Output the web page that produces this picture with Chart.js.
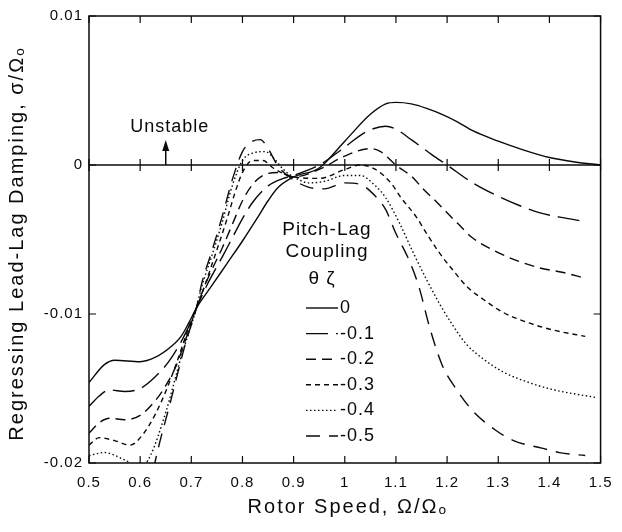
<!DOCTYPE html>
<html>
<head>
<meta charset="utf-8">
<script src="https://cdn.jsdelivr.net/npm/chart.js@4.4.0/dist/chart.umd.min.js"></script>
<style>
    html, body { margin: 0; padding: 0; background: #ffffff; }
    canvas { display: block; }
</style>
</head>
<body>
<canvas id="chartDamping" width="622" height="532"></canvas>
<script>
// ========== DONNÉES ==========
const couplingLabels = ['0', '-0.1', '-0.2', '-0.3', '-0.4', '-0.5'];

const speed0 = [0.50, 0.53, 0.55, 0.60, 0.63, 0.66, 0.68, 0.695, 0.71, 0.74, 0.77, 0.80, 0.83, 0.85, 0.87, 0.90, 0.95, 1.00, 1.05, 1.08, 1.10, 1.13, 1.16, 1.19, 1.22, 1.25, 1.30, 1.35, 1.40, 1.45, 1.50];
const damp0  = [-0.0146, -0.0134, -0.0131, -0.0132, -0.0129, -0.0122, -0.0115, -0.0106, -0.0096, -0.0081, -0.0066, -0.0051, -0.0035, -0.0024, -0.0015, -0.0008, -0.0002, 0.0016, 0.0034, 0.0041, 0.0042, 0.0041, 0.0038, 0.0034, 0.0029, 0.0023, 0.0016, 0.0010, 0.0005, 0.0002, 0.0000];

const speed1 = [0.50, 0.52, 0.54, 0.57, 0.60, 0.63, 0.66, 0.69, 0.71, 0.73, 0.76, 0.78, 0.80, 0.82, 0.85, 0.88, 0.90, 0.95, 1.00, 1.04, 1.08, 1.10, 1.13, 1.17, 1.20, 1.25, 1.30, 1.34, 1.38, 1.42, 1.47];
const damp1  = [-0.0162, -0.0155, -0.0151, -0.0152, -0.0150, -0.0142, -0.0130, -0.0112, -0.0096, -0.0081, -0.0062, -0.0049, -0.0036, -0.0025, -0.0014, -0.0009, -0.0007, 0.0000, 0.0012, 0.0022, 0.0026, 0.0024, 0.0017, 0.0007, 0.0000, -0.0012, -0.0021, -0.0027, -0.0032, -0.0035, -0.0038];

const speed2 = [0.50, 0.52, 0.54, 0.57, 0.60, 0.63, 0.65, 0.67, 0.69, 0.71, 0.73, 0.76, 0.78, 0.80, 0.82, 0.84, 0.87, 0.90, 0.95, 1.00, 1.05, 1.07, 1.10, 1.135, 1.15, 1.18, 1.22, 1.25, 1.295, 1.335, 1.38, 1.425, 1.47];
const damp2  = [-0.0180, -0.0173, -0.0170, -0.0171, -0.0168, -0.0158, -0.0148, -0.0135, -0.0116, -0.0096, -0.0078, -0.0056, -0.0040, -0.0024, -0.0013, -0.0007, -0.0005, -0.0008, -0.0003, 0.0006, 0.0011, 0.0009, 0.0000, -0.0009, -0.0015, -0.0025, -0.0039, -0.0049, -0.0058, -0.0064, -0.0069, -0.0072, -0.0076];

const speed3 = [0.50, 0.52, 0.55, 0.58, 0.605, 0.63, 0.65, 0.67, 0.69, 0.71, 0.72, 0.745, 0.77, 0.785, 0.80, 0.82, 0.84, 0.86, 0.90, 0.95, 1.00, 1.03, 1.06, 1.09, 1.11, 1.14, 1.16, 1.185, 1.21, 1.24, 1.27, 1.31, 1.36, 1.41, 1.47];
const damp3  = [-0.0188, -0.0183, -0.0185, -0.0188, -0.0181, -0.0167, -0.0152, -0.0134, -0.0114, -0.0096, -0.0087, -0.0062, -0.0036, -0.0019, -0.0005, 0.0003, 0.0003, -0.0002, -0.0008, -0.0009, -0.0003, 0.0000, -0.0003, -0.0012, -0.0022, -0.0035, -0.0046, -0.0059, -0.0070, -0.0082, -0.0090, -0.0099, -0.0106, -0.0111, -0.0115];

const speed4 = [0.50, 0.53, 0.57, 0.60, 0.62, 0.65, 0.68, 0.71, 0.72, 0.74, 0.76, 0.78, 0.80, 0.82, 0.845, 0.86, 0.88, 0.90, 0.93, 0.96, 1.00, 1.03, 1.06, 1.08, 1.107, 1.134, 1.16, 1.185, 1.21, 1.237, 1.27, 1.31, 1.36, 1.41, 1.49];
const damp4  = [-0.0195, -0.0193, -0.0198, -0.0203, -0.0195, -0.0166, -0.0129, -0.0096, -0.0082, -0.0061, -0.0039, -0.0014, 0.0003, 0.0008, 0.0009, 0.0005, -0.0003, -0.0008, -0.0012, -0.0011, -0.0007, -0.0007, -0.0014, -0.0022, -0.0039, -0.0059, -0.0077, -0.0093, -0.0107, -0.0120, -0.0130, -0.0139, -0.0146, -0.0151, -0.0156];

const speed5 = [0.60, 0.63, 0.66, 0.69, 0.71, 0.72, 0.74, 0.76, 0.78, 0.80, 0.82, 0.835, 0.85, 0.87, 0.90, 0.93, 0.96, 1.00, 1.03, 1.06, 1.08, 1.10, 1.127, 1.146, 1.165, 1.19, 1.217, 1.25, 1.295, 1.33, 1.385, 1.42, 1.47];
const damp5  = [-0.0250, -0.0198, -0.0158, -0.0118, -0.0096, -0.0080, -0.0058, -0.0035, -0.0010, 0.0009, 0.0016, 0.0017, 0.0011, -0.0001, -0.0010, -0.0015, -0.0016, -0.0012, -0.0013, -0.0021, -0.0030, -0.0046, -0.0065, -0.0083, -0.0108, -0.0134, -0.0150, -0.0165, -0.0178, -0.0185, -0.0190, -0.0193, -0.0195];

const xTickValues = [0.5, 0.6, 0.7, 0.8, 0.9, 1.0, 1.1, 1.2, 1.3, 1.4, 1.5];
const yTickValues = [0.01, 0, -0.01, -0.02];

const allSpeeds = [speed0, speed1, speed2, speed3, speed4, speed5];
const allDamps  = [damp0, damp1, damp2, damp3, damp4, damp5];
const dashes = [[], [22, 8], [10, 6], [5, 4], [1.5, 2.5], [14, 9]];

const FONT = '"Liberation Sans", Arial, sans-serif';
const INK = '#0a0a0a';

// ========== DÉCOR (cadre, ticks, titres, légende) ==========
const decorPlugin = {
    id: 'decor',
    beforeDraw(chart) {
        chart.ctx.letterSpacing = '1px';
    },
    afterDatasetsDraw(chart) {
        const { ctx, chartArea: a, scales: { x, y } } = chart;
        ctx.save();
        ctx.strokeStyle = INK;
        ctx.fillStyle = INK;

        // frame
        ctx.lineWidth = 1.5;
        ctx.strokeRect(a.left, a.top, a.right - a.left, a.bottom - a.top);

        // zero line
        const y0 = y.getPixelForValue(0);
        ctx.lineWidth = 1.6;
        ctx.beginPath();
        ctx.moveTo(a.left, y0);
        ctx.lineTo(a.right, y0);
        ctx.stroke();

        // inward ticks
        ctx.lineWidth = 1.2;
        ctx.beginPath();
        xTickValues.forEach(v => {
            const px = x.getPixelForValue(v);
            ctx.moveTo(px, a.bottom); ctx.lineTo(px, a.bottom - 7);
            ctx.moveTo(px, a.top); ctx.lineTo(px, a.top + 7);
            ctx.moveTo(px, y0 - 6); ctx.lineTo(px, y0 + 6);
        });
        yTickValues.forEach(v => {
            const py = y.getPixelForValue(v);
            ctx.moveTo(a.left, py); ctx.lineTo(a.left + 7, py);
            ctx.moveTo(a.right, py); ctx.lineTo(a.right - 7, py);
        });
        ctx.stroke();

        // axis titles
        ctx.letterSpacing = '2px';
        ctx.font = '20px ' + FONT;
        ctx.textAlign = 'center';
        ctx.textBaseline = 'middle';
        ctx.fillText('Rotor Speed, \u03A9/\u03A9\u2092', (a.left + a.right) / 2 + 3, 507);
        ctx.save();
        ctx.translate(17, (a.top + a.bottom) / 2 + 4);
        ctx.rotate(-Math.PI / 2);
        ctx.fillText('Regressing Lead-Lag Damping, \u03C3/\u03A9\u2092', 0, 0);
        ctx.restore();

        // Unstable
        ctx.letterSpacing = '1px';
        const ax = x.getPixelForValue(0.65);
        ctx.font = '18px ' + FONT;
        ctx.fillText('Unstable', ax + 4, y0 - 38);
        ctx.lineWidth = 1.5;
        ctx.beginPath();
        ctx.moveTo(ax, y0);
        ctx.lineTo(ax, y0 - 16);
        ctx.stroke();
        ctx.beginPath();
        ctx.moveTo(ax, y0 - 25);
        ctx.lineTo(ax - 3.5, y0 - 14);
        ctx.lineTo(ax + 3.5, y0 - 14);
        ctx.closePath();
        ctx.fill();

        // legend
        ctx.font = '19px ' + FONT;
        ctx.fillText('Pitch-Lag', 327, 230);
        ctx.fillText('Coupling', 327, 252);
        ctx.fillText('\u03B8 \u03B6', 322, 279);
        ctx.font = '18px ' + FONT;
        ctx.textAlign = 'left';
        chart.data.datasets.forEach((ds, i) => {
            const ry = 308 + i * 25.6;
            ctx.lineWidth = ds.borderWidth;
            ctx.setLineDash(ds.borderDash);
            ctx.beginPath();
            ctx.moveTo(306, ry);
            ctx.lineTo(338, ry);
            ctx.stroke();
            ctx.setLineDash([]);
            ctx.fillText(ds.label, 340, ry);
        });
        ctx.restore();
    }
};

// ========== GRAPHIQUE ==========
const datasets = allSpeeds.map((speeds, i) => ({
    label: couplingLabels[i],
    data: speeds.map((s, k) => ({ x: s, y: allDamps[i][k] })),
    borderColor: INK,
    borderWidth: 1.4,
    borderDash: dashes[i],
    pointRadius: 0,
    fill: false,
    cubicInterpolationMode: 'monotone'
}));

new Chart(document.getElementById('chartDamping'), {
    type: 'line',
    data: { datasets },
    options: {
        responsive: false,
        animation: false,
        devicePixelRatio: 1,
        layout: { padding: { top: 16, right: 16, left: 0, bottom: 0 } },
        plugins: { legend: { display: false }, tooltip: { enabled: false } },
        scales: {
            x: {
                type: 'linear',
                min: 0.5,
                max: 1.5,
                afterBuildTicks: s => { s.ticks = xTickValues.map(v => ({ value: v })); },
                afterFit: s => { s.height = 69; },
                grid: { display: false, drawTicks: false },
                border: { display: false },
                ticks: {
                    padding: 11,
                    color: INK,
                    font: { family: FONT, size: 15 },
                    maxRotation: 0,
                    callback: v => String(Number(v.toFixed(1)))
                }
            },
            y: {
                type: 'linear',
                min: -0.02,
                max: 0.01,
                afterBuildTicks: s => { s.ticks = yTickValues.map(v => ({ value: v })); },
                afterFit: s => { s.width = 89; },
                grid: { display: false, drawTicks: false },
                border: { display: false },
                ticks: {
                    padding: 6,
                    color: INK,
                    font: { family: FONT, size: 15 },
                    callback: v => String(Number(v.toFixed(2)))
                }
            }
        }
    },
    plugins: [decorPlugin]
});
</script>
</body>
</html>
